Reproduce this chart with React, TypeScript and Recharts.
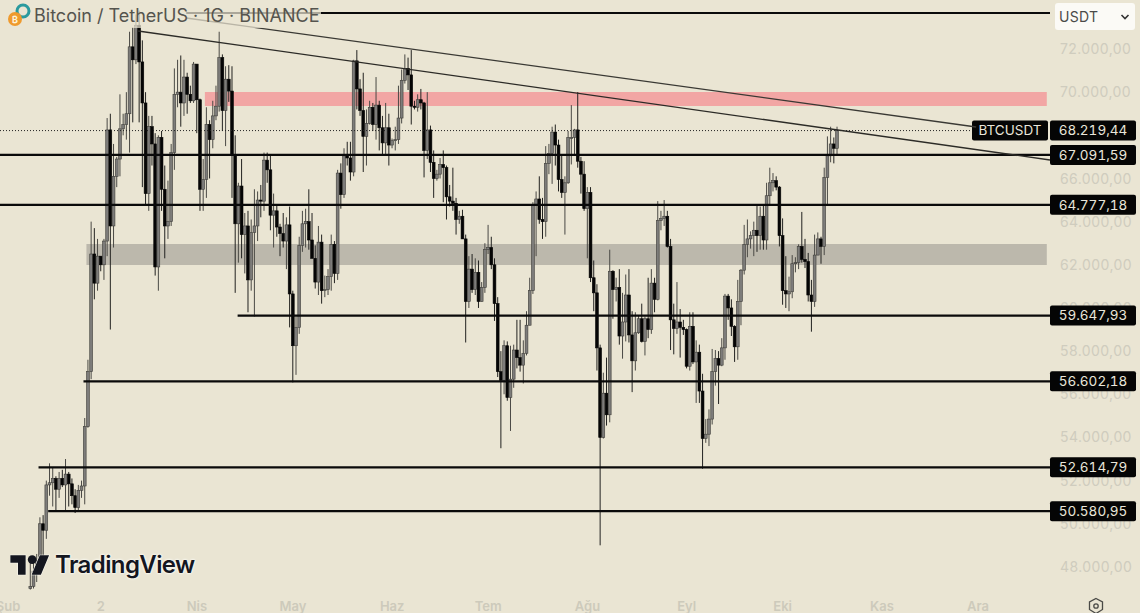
import React from "react";
import { ComposedChart, Bar, XAxis, YAxis, ReferenceLine, ReferenceArea } from "recharts";

// [open, high, low, close] in thousands of USDT, one row per day
const feb = [
[47.0,48.2,46.95,47.1],[47.1,48.2,47.0,47.8],[47.8,48.6,47.3,48.3],[48.3,50.3,47.7,50.0],[50.0,50.4,48.3,49.7],[49.7,52.0,49.3,51.8],[51.8,52.8,51.3,51.9],[51.9,52.6,50.8,52.1],[52.1,52.2,50.6,51.6],[51.6,52.4,51.2,52.1],[52.1,52.5,51.7,51.8],[51.8,53.0,50.6,52.3],[52.3,52.4,50.8,51.85],[51.85,52.1,50.9,51.3],[51.3,51.6,50.5,50.75],[50.75,51.8,50.6,51.55],[51.55,52.0,51.2,51.75],[51.75,54.9,50.9,54.5],[54.5,57.6,54.45,57.05],[57.05,64.0,56.7,62.5],[62.5,63.7,60.4,61.15]];
const mar = [
[61.15,63.2,60.8,62.4],[62.4,62.4,61.7,62.0],[62.0,63.2,61.3,63.1],[63.1,68.8,62.4,68.25],[68.25,69.0,59.0,63.8],[63.8,67.6,62.8,66.1],[66.1,67.0,65.6,66.9],[66.9,69.9,66.1,68.3],[68.3,69.0,68.0,68.5],[68.5,70.0,67.8,69.0],[69.0,72.8,67.2,72.1],[72.1,73.0,68.6,71.5],[71.5,73.6,71.3,73.1],[73.1,73.78,68.6,71.4],[71.4,72.4,65.6,69.5],[69.5,70.0,64.8,65.3],[65.3,68.9,64.5,68.4],[68.4,68.9,66.6,67.6],[67.6,68.1,61.5,61.9],[61.9,68.0,60.8,67.9],[67.9,68.2,64.5,65.5],[65.5,66.6,62.3,63.8],[63.8,65.9,63.2,64.0],[64.0,67.6,63.8,67.2],[67.2,71.1,66.4,69.9],[69.9,71.5,69.3,70.0],[70.0,71.7,68.4,69.5],[69.5,71.5,68.9,70.7],[70.7,70.9,69.0,69.9],[69.9,70.3,69.5,69.6],[69.6,71.4,69.5,71.3]];
const apr = [
[71.3,71.3,68.1,69.65],[69.65,69.7,64.5,65.5],[65.5,66.9,64.5,65.95],[65.95,69.3,65.1,68.5],[68.5,68.7,66.0,67.8],[67.8,69.6,67.4,68.9],[68.9,70.3,68.7,69.35],[69.35,72.8,69.1,71.6],[71.6,71.75,68.2,69.15],[69.15,71.2,67.5,70.6],[70.6,71.25,69.55,70.05],[70.05,71.2,65.1,67.1],[67.1,68.0,60.7,63.9],[63.9,65.8,62.1,65.65],[65.65,66.9,62.3,63.4],[63.4,64.4,61.6,63.8],[63.8,64.5,59.8,61.3],[61.3,64.1,60.8,63.5],[63.5,65.5,59.6,63.8],[63.8,65.4,63.1,65.0],[65.0,65.7,64.2,64.95],[64.95,67.2,64.5,66.85],[66.85,67.2,65.8,66.4],[66.4,67.1,63.6,64.3],[64.3,65.3,62.8,64.5],[64.5,64.8,63.3,63.75],[63.75,63.9,62.4,63.45],[63.45,64.4,62.8,63.1],[63.1,64.2,61.8,63.85],[63.85,64.7,59.1,60.65]];
const may = [
[60.65,60.8,56.55,58.25],[58.25,59.6,56.9,59.1],[59.1,63.3,58.8,62.9],[62.9,64.5,62.6,63.9],[63.9,64.6,62.8,64.0],[64.0,65.5,62.7,63.15],[63.15,64.4,62.3,62.3],[62.3,62.9,60.9,61.2],[61.2,63.8,60.6,63.05],[63.05,63.4,60.2,60.8],[60.8,61.5,60.5,60.85],[60.85,61.8,60.6,61.45],[61.45,63.4,60.8,62.95],[62.95,63.1,61.15,61.6],[61.6,66.4,61.3,66.25],[66.25,66.7,64.6,65.25],[65.25,67.4,65.1,67.05],[67.05,67.7,66.6,66.95],[66.95,67.7,65.9,66.3],[66.3,71.5,66.1,71.45],[71.45,71.95,69.2,70.15],[70.15,70.6,68.9,69.15],[69.15,70.9,66.3,67.95],[67.95,69.2,66.6,68.55],[68.55,69.6,68.5,69.3],[69.3,69.5,68.2,68.5],[68.5,70.7,67.8,69.4],[69.4,69.6,67.3,68.35],[68.35,68.9,67.1,67.65],[67.65,69.5,67.1,68.35],[68.35,69.0,66.6,67.55]];
const jun = [
[67.55,67.85,67.4,67.75],[67.75,68.4,67.3,67.8],[67.8,70.3,67.6,68.8],[68.8,71.05,68.55,70.55],[70.55,71.75,70.4,71.1],[71.1,71.6,70.1,70.8],[70.8,71.95,68.5,69.35],[69.35,69.6,69.2,69.3],[69.3,69.9,69.1,69.65],[69.65,70.15,69.2,69.5],[69.5,69.55,66.05,67.3],[67.3,70.0,66.9,68.25],[68.25,68.45,66.3,66.75],[66.75,67.3,65.1,66.0],[66.0,66.4,65.9,66.2],[66.2,66.95,66.0,66.65],[66.65,67.3,64.9,66.5],[66.5,66.6,64.1,65.15],[65.15,65.7,64.7,64.95],[64.95,66.5,64.5,64.85],[64.85,65.1,63.4,64.1],[64.1,64.5,63.9,64.25],[64.25,64.55,63.2,63.2],[63.2,63.4,58.4,60.3],[60.3,62.4,60.0,61.8],[61.8,62.5,60.7,60.85],[60.85,62.3,60.6,61.65],[61.65,62.2,60.0,60.3],[60.3,61.2,60.3,60.95],[60.95,63.0,60.7,62.7]];
const jul = [
[62.7,63.85,62.5,62.8],[62.8,63.3,61.8,62.0],[62.0,62.3,59.4,60.2],[60.2,60.5,56.8,57.05],[57.05,58.0,53.5,56.65],[56.65,58.5,56.0,58.25],[58.25,58.45,55.7,55.85],[55.85,58.25,54.3,56.7],[56.7,58.3,56.3,58.05],[58.05,59.45,57.2,57.7],[57.7,59.45,57.05,57.35],[57.35,58.5,56.5,57.9],[57.9,59.85,57.8,59.2],[59.2,61.4,59.2,60.8],[60.8,64.9,60.65,64.75],[64.75,65.4,62.4,65.05],[65.05,66.1,63.9,64.1],[64.1,65.1,63.2,64.0],[64.0,67.5,63.3,66.7],[66.7,67.6,66.2,67.15],[67.15,68.4,65.75,68.15],[68.15,68.5,66.6,67.55],[67.55,67.8,65.4,65.95],[65.95,67.1,65.1,65.35],[65.35,66.1,63.4,65.8],[65.8,68.2,65.75,67.9],[67.9,69.4,66.65,67.9],[67.9,68.3,67.05,68.25],[68.25,70.0,66.5,66.8],[66.8,67.0,65.3,66.2],[66.2,66.8,64.5,64.6]];
const aug = [
[64.6,65.6,62.3,65.35],[65.35,65.6,61.2,61.4],[61.4,62.2,59.85,60.7],[60.7,61.1,57.1,58.15],[58.15,58.3,49.0,54.0],[54.0,57.0,53.95,56.05],[56.05,57.7,54.55,55.05],[55.05,62.7,54.7,61.7],[61.7,61.75,59.5,60.85],[60.85,61.4,60.3,60.95],[60.95,61.8,58.3,58.7],[58.7,60.7,57.65,59.35],[59.35,61.55,58.45,60.6],[60.6,61.8,58.4,58.75],[58.75,59.85,56.1,57.55],[57.55,59.8,57.1,58.85],[58.85,59.65,58.8,59.5],[59.5,60.2,58.4,58.45],[58.45,59.6,57.8,59.5],[59.5,61.4,58.6,59.0],[59.0,61.8,58.8,61.15],[61.15,61.4,59.8,60.4],[60.4,64.95,60.35,64.05],[64.05,64.5,63.6,64.15],[64.15,65.0,63.8,64.25],[64.25,64.5,62.8,62.85],[62.85,63.2,58.05,59.45],[59.45,60.2,57.85,59.05],[59.05,61.2,58.8,59.35],[59.35,59.95,57.7,59.1],[59.1,59.45,58.75,59.0]];
const sep = [
[59.0,59.05,57.2,57.3],[57.3,59.8,57.1,59.15],[59.15,59.8,57.4,57.5],[57.5,58.5,55.6,57.95],[57.95,58.3,55.6,56.15],[56.15,56.95,52.55,53.95],[53.95,54.85,53.75,54.15],[54.15,55.3,53.6,54.85],[54.85,58.1,54.6,57.05],[57.05,58.05,56.4,57.65],[57.65,58.0,55.55,57.35],[57.35,58.6,57.3,58.15],[58.15,60.65,57.6,60.55],[60.55,60.65,59.45,60.0],[60.0,60.4,58.7,59.15],[59.15,59.2,57.5,58.2],[58.2,61.3,57.6,60.3],[60.3,61.8,59.2,61.75],[61.75,63.85,61.55,62.95],[62.95,64.1,62.35,63.2],[63.2,63.55,62.75,63.35],[63.35,64.0,62.4,63.6],[63.6,64.75,62.6,63.35],[63.35,64.7,62.7,64.25],[64.25,64.8,62.7,63.15],[63.15,65.8,62.7,65.2],[65.2,66.5,64.8,65.8],[65.8,66.25,65.4,65.9],[65.9,66.1,65.45,65.6],[65.6,65.65,62.85,63.35]];
const oct = [
[63.35,64.15,60.15,60.8],[60.8,62.4,60.0,60.65],[60.65,61.45,59.85,60.75],[60.75,62.45,60.45,62.05],[62.05,62.35,61.65,62.1],[62.1,62.95,61.8,62.85],[62.85,64.45,62.1,62.25],[62.25,63.2,61.85,62.15],[62.15,62.55,60.3,60.6],[60.6,61.3,58.9,60.3],[60.3,63.4,60.05,62.45],[62.45,63.5,62.45,63.2],[63.2,63.3,62.05,62.85],[62.85,66.5,62.45,66.05],[66.05,67.95,64.8,67.05],[67.05,68.4,66.75,67.6],[67.6,67.9,66.7,67.4],[67.4,68.4,67.1,68.22]];

const candleMonths: [string, number, number[][]][] = [
  ["02", 9, feb], ["03", 1, mar], ["04", 1, apr], ["05", 1, may], ["06", 1, jun],
  ["07", 1, jul], ["08", 1, aug], ["09", 1, sep], ["10", 1, oct],
];
const calendar: [string, number, number][] = [
  ["01", 31, 31], ["02", 1, 29], ["03", 1, 31], ["04", 1, 30], ["05", 1, 31], ["06", 1, 30],
  ["07", 1, 31], ["08", 1, 31], ["09", 1, 30], ["10", 1, 31], ["11", 1, 30], ["12", 1, 23],
];

const xTickDates = ["02-02", "03-02", "04-01", "05-01", "06-01", "07-01", "08-01", "09-01", "10-01", "11-01", "12-01"];
const xTickLabels = ["Şub", "2", "Nis", "May", "Haz", "Tem", "Ağu", "Eyl", "Eki", "Kas", "Ara"];
const yTicks = [48000, 50000, 52000, 54000, 56000, 58000, 60000, 62000, 64000, 66000, 70000, 72000];
const yDomain = [46930.5, 74270.6];
const fullLevels = [
  { price: 67091.59, text: "67.091,59" },
  { price: 64777.18, text: "64.777,18" },
];
const partialLevels = [
  { price: 59647.93, text: "59.647,93", from: "04-14" },
  { price: 56602.18, text: "56.602,18", from: "02-26" },
  { price: 52614.79, text: "52.614,79", from: "02-12" },
  { price: 50580.95, text: "50.580,95", from: "02-15" },
];
const lastPrice = 68219.44;
const lastPriceText = "68.219,44";
const topLevel = 73668;
const trendLower = [{ x: "03-14", y: 72834 }, { x: "12-23", y: 66856 }];
const trendUpper = [{ x: "03-29", y: 73437 }, { x: "11-30", y: 68386 }];
const pinkZone = { from: "04-04", top: 70007, bottom: 69359 };
const grayZone = { from: "02-27", top: 62964, bottom: 61990 };

const BG = "#eae5d3";
const FONT = "Inter, 'Noto Sans', sans-serif";
const pad = (n: number) => String(n).padStart(2, "0");

const candleByDate: Record<string, number[]> = {};
candleMonths.forEach(([m, start, rows]) => rows.forEach((r, i) => { candleByDate[`${m}-${pad(start + i)}`] = r; }));

const data: any[] = [];
calendar.forEach(([m, first, last]) => {
  for (let d = first; d <= last; d++) {
    const date = `${m}-${pad(d)}`;
    const r = candleByDate[date];
    data.push(r
      ? { date, open: r[0] * 1000, high: r[1] * 1000, low: r[2] * 1000, close: r[3] * 1000, range: [r[2] * 1000, r[1] * 1000] }
      : { date, range: null });
  }
});

const Candle = (props: any) => {
  const { x, y, width, height, payload } = props;
  if (!payload || payload.high == null) return null;
  const { open, high, low, close } = payload;
  const k = height / (high - low);
  const cx = x + width / 2;
  const yOf = (v: number) => y + (high - v) * k;
  const up = close >= open;
  const top = yOf(Math.max(open, close));
  const bot = yOf(Math.min(open, close));
  return (
    <g>
      <line x1={cx} x2={cx} y1={y} y2={y + height} stroke={up ? "#4a4945" : "#222220"} strokeWidth={1} />
      <rect x={cx - 1.4} y={top} width={2.8} height={Math.max(bot - top, 1)} fill={up ? "#7d7c7a" : "#050505"} stroke={up ? "#3f3e3a" : "#050505"} strokeWidth={0.6} />
    </g>
  );
};

const TagBox = ({ x, y, width, text }: any) => (
  <g>
    <rect x={x} y={y - 10} width={width} height={20} rx={2} fill="#050505" />
    <text x={x + width / 2} y={y} dy="0.36em" textAnchor="middle" fill="#e9e6da" fontSize={13.5} fontFamily={FONT} style={{ fontVariantNumeric: "tabular-nums" }}>{text}</text>
  </g>
);

const PriceTag = ({ viewBox, text, name }: any) => {
  const y = viewBox.y;
  return (
    <g>
      {name ? <TagBox x={972} y={y} width={76} text={name} /> : null}
      <TagBox x={1050} y={y} width={86} text={text} />
    </g>
  );
};

const XTick = ({ x, y, payload }: any) => (
  <text x={x} y={y + 13} textAnchor="middle" fill="#cdcabb" fontSize={13} fontWeight={600} fontFamily={FONT}>
    {xTickLabels[xTickDates.indexOf(payload.value)]}
  </text>
);

const YTick = ({ y, payload }: any) => (
  <text x={1060} y={y} dy="0.36em" fill="#cfccbe" fontSize={14} fontFamily={FONT} letterSpacing={0.4}>
    {payload.value.toLocaleString("de-DE", { minimumFractionDigits: 2, maximumFractionDigits: 2 })}
  </text>
);

export default function App() {
  return (
    <div style={{ position: "absolute", left: 0, top: 0, width: 1140, height: 613, background: BG, overflow: "hidden", fontFamily: FONT }}>
      <div style={{ position: "absolute", left: 0, top: 0 }}>
        <ComposedChart width={1140} height={613} data={data} margin={{ top: 0, right: 0, bottom: 0, left: 0 }} barCategoryGap={0}>
          <XAxis dataKey="date" ticks={xTickDates} interval={0} tick={<XTick />} axisLine={false} tickLine={false} height={23} />
          <YAxis orientation="right" width={90} domain={yDomain} ticks={yTicks} tick={<YTick />} axisLine={false} tickLine={false} allowDataOverflow />
          <ReferenceArea x1={pinkZone.from} x2="12-22" y1={pinkZone.bottom} y2={pinkZone.top} fill="#f2a6a4" fillOpacity={1} stroke="none" />
          <ReferenceArea x1={grayZone.from} x2="12-22" y1={grayZone.bottom} y2={grayZone.top} fill="#bcb8ac" fillOpacity={1} stroke="none" />
          <Bar dataKey="range" shape={<Candle />} isAnimationActive={false} barSize={3} />
        </ComposedChart>
      </div>

      <div style={{ position: "absolute", left: 0, top: 0 }}>
        <ComposedChart width={1140} height={613} data={data} margin={{ top: 0, right: 90, bottom: 23, left: 0 }} barCategoryGap={0}>
          <XAxis dataKey="date" hide />
          <YAxis hide domain={yDomain} allowDataOverflow />
          <ReferenceLine segment={[{ x: "03-29", y: topLevel }, { x: "12-23", y: topLevel }]} stroke="#0a0a0a" strokeWidth={2} />
          {fullLevels.map((l) => (
            <ReferenceLine key={l.text} y={l.price} stroke="#0a0a0a" strokeWidth={2.2} label={<PriceTag text={l.text} />} />
          ))}
          {partialLevels.map((l) => (
            <ReferenceLine key={l.text} segment={[{ x: l.from, y: l.price }, { x: "12-23", y: l.price }]} stroke="#0a0a0a" strokeWidth={2.2} label={<PriceTag text={l.text} />} />
          ))}
          <ReferenceLine segment={[{ x: "01-31", y: lastPrice }, { x: "11-30", y: lastPrice }]} stroke="#222" strokeWidth={1} strokeDasharray="1 2" label={<PriceTag text={lastPriceText} name="BTCUSDT" />} />
          <ReferenceLine segment={trendLower} stroke="#2c2b27" strokeWidth={1.3} />
          <ReferenceLine segment={trendUpper} stroke="#3a3934" strokeWidth={1.3} />
        </ComposedChart>
      </div>

      <div style={{ position: "absolute", left: 32, top: 4, padding: "0 2px", fontSize: 18, lineHeight: "24px", color: "#55544e", whiteSpace: "nowrap", background: "rgba(234,229,211,0.72)" }}>
        Bitcoin / TetherUS · 1G · BINANCE
      </div>
      <svg width={32} height={32} style={{ position: "absolute", left: 4, top: 0 }}>
        <circle cx={19} cy={11} r={6} fill="none" stroke="#2a9a9e" strokeWidth={3} />
        <circle cx={11} cy={19} r={7} fill="#ef9a2d" />
        <text x={11} y={22.5} textAnchor="middle" fill="#fff3d8" fontSize={9} fontWeight={700} fontFamily={FONT}>₿</text>
      </svg>

      <div style={{ position: "absolute", left: 1055, top: 3, width: 80, height: 27, background: "#fbfaf6", borderRadius: 3, color: "#4a4a48", fontSize: 14, lineHeight: "27px", paddingLeft: 4, boxSizing: "border-box", letterSpacing: 0.3 }}>
        USDT
        <svg width={10} height={8} style={{ position: "absolute", right: 5, top: 10 }}>
          <path d="M1.5 2 L5 5.5 L8.5 2" fill="none" stroke="#333" strokeWidth={1.6} />
        </svg>
      </div>

      <svg width={40} height={24} viewBox="0 0 36 22" style={{ position: "absolute", left: 10, top: 553 }}>
        <path d="M14 20H7V9H0V2h14v18zM28 20h-8.5L27 2h8.5L28 20z" fill="#14161f" stroke="#fbfaf3" strokeWidth={1} paintOrder="stroke" />
        <circle cx={20} cy={6} r={4} fill="#14161f" />
      </svg>
      <div style={{ position: "absolute", left: 55, top: 549, fontSize: 24, lineHeight: "32px", fontWeight: 600, color: "#14161f", letterSpacing: -0.6, textShadow: "0 0 2px #fbfaf3, 0 0 2px #fbfaf3, 0 0 3px #fbfaf3", whiteSpace: "nowrap" }}>
        TradingView
      </div>

      <svg width={20} height={20} style={{ position: "absolute", left: 1086, top: 596 }}>
        <path d="M10 2.5 L16.5 6 L16.5 13.5 L10 17.5 L3.5 13.5 L3.5 6 Z" fill="none" stroke="#4a4a46" strokeWidth={1.3} />
        <circle cx={10} cy={10} r={2.2} fill="none" stroke="#4a4a46" strokeWidth={1.3} />
      </svg>
    </div>
  );
}
